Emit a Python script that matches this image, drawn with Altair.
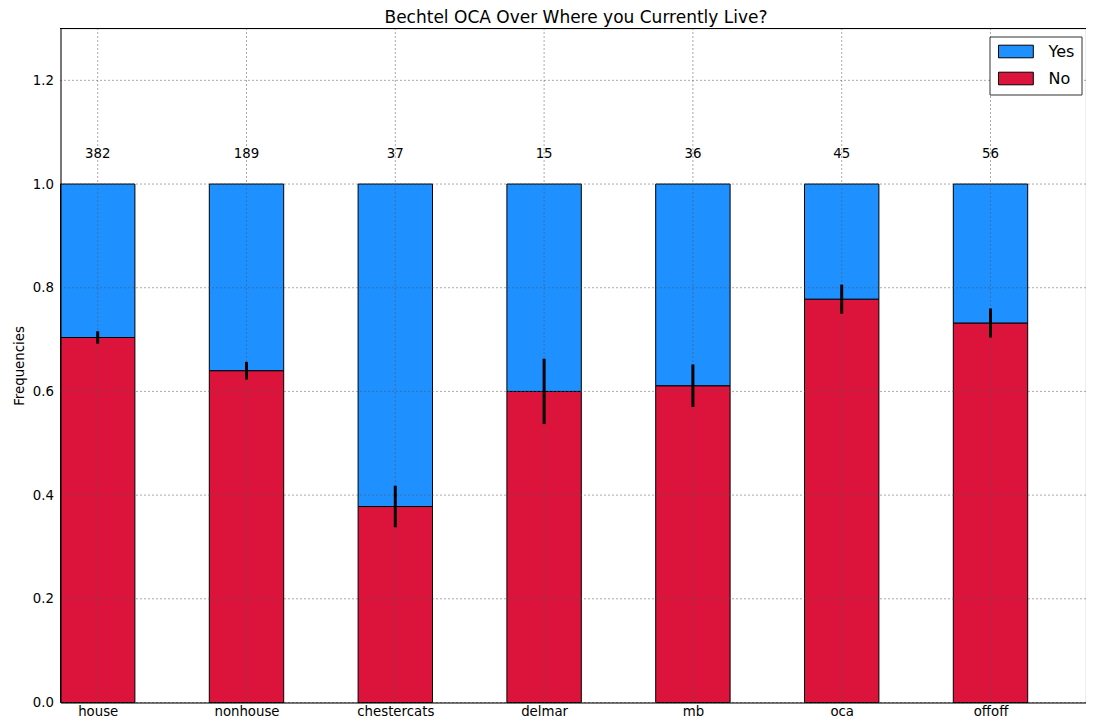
import altair as alt
import pandas as pd

categories = ["house", "nonhouse", "chestercats", "delmar", "mb", "oca", "offoff"]
counts = [382, 189, 37, 15, 36, 45, 56]
no_share = [0.704, 0.640, 0.378, 0.600, 0.611, 0.778, 0.732]
err = [0.012, 0.017, 0.040, 0.063, 0.041, 0.028, 0.028]
y_ticks = [0.0, 0.2, 0.4, 0.6, 0.8, 1.0, 1.2]
responses = ["Yes", "No"]
colors = ["#1E90FF", "#DC143C"]

HALF = 0.25
rows = []
for i, c in enumerate(categories):
    rows.append(dict(cat=c, pos=i, response="No", y0=0.0, y1=no_share[i]))
    rows.append(dict(cat=c, pos=i, response="Yes", y0=no_share[i], y1=1.0))
bars_df = pd.DataFrame(rows)
bars_df["left"] = bars_df["pos"] - HALF
bars_df["right"] = bars_df["pos"] + HALF

summ = pd.DataFrame(dict(cat=categories, pos=list(range(len(categories))),
                         count=counts, no=no_share, err=err))
summ["lo"] = summ["no"] - summ["err"]
summ["hi"] = summ["no"] + summ["err"]
summ["ly"] = 1.05
ygrid_df = pd.DataFrame(dict(tick=y_ticks))

W, H = 1025, 674
PX_PER_UNIT = 148.8
FONT = "DejaVu Sans"
GRID = dict(color="#555", strokeDash=[1, 3], strokeWidth=1)
label_js = "[" + ",".join("'%s'" % c for c in categories) + "][datum.value]"

xscale = alt.Scale(domain=[-0.25, -0.25 + W / PX_PER_UNIT], nice=False, zero=False)
yscale = alt.Scale(domain=[0, 1.3], nice=False, zero=False)

xaxis = alt.Axis(values=list(range(len(categories))), labelExpr=label_js, title=None,
                 ticks=False, labelPadding=2, labelFontSize=13.3, labelFont=FONT,
                 labelColor="black", grid=False, domainColor="black", domainWidth=1, zindex=1)
yaxis = alt.Axis(values=y_ticks, format=".1f", title="Frequencies",
                 titleFont=FONT, titleFontSize=13.3, titleFontWeight="normal", titleColor="black",
                 titlePadding=6, ticks=False, labelPadding=7, labelFontSize=13.3, labelFont=FONT,
                 labelColor="black", grid=False, domainColor="black", domainWidth=1, zindex=1)

bars = alt.Chart(bars_df).mark_bar(stroke="black", strokeWidth=1).encode(
    x=alt.X("left:Q", scale=xscale, axis=xaxis),
    x2="right:Q",
    y=alt.Y("y0:Q", scale=yscale, axis=yaxis),
    y2="y1:Q",
    color=alt.Color("response:N",
                    scale=alt.Scale(domain=responses, range=colors),
                    legend=alt.Legend(title=None, orient="none", legendX=929, legendY=8,
                                      symbolType="M-1,-1.05L4.8,-1.05L4.8,1.05L-1,1.05Z",
                                      symbolSize=144, symbolStrokeColor="black",
                                      symbolStrokeWidth=1, labelFontSize=16, labelFont=FONT,
                                      labelColor="black", labelOffset=36, rowPadding=9,
                                      padding=7, strokeColor="#333", fillColor="white",
                                      cornerRadius=0)),
)

ygrid = alt.Chart(ygrid_df).mark_rule(**GRID).encode(
    y=alt.Y("tick:Q", scale=yscale), x=alt.value(0), x2=alt.value(W))
xgrid = alt.Chart(summ).mark_rule(**GRID).encode(
    x=alt.X("pos:Q", scale=xscale), y=alt.value(0), y2=alt.value(H))

errs = alt.Chart(summ).mark_rule(color="black", strokeWidth=3).encode(
    x="pos:Q", y="lo:Q", y2="hi:Q")

texts = alt.Chart(summ).mark_text(baseline="alphabetic", align="center", fontSize=13.3,
                                  font=FONT, color="black").encode(
    x="pos:Q", y="ly:Q", text="count:Q")

top = alt.Chart(summ).mark_rule(color="black", strokeWidth=1).encode(
    x=alt.value(0), x2=alt.value(W), y=alt.value(0))

chart = alt.layer(bars, ygrid, xgrid, errs, texts, top).properties(
    width=W, height=H,
    title=alt.TitleParams("Bechtel OCA Over Where you Currently Live?", fontSize=17,
                          font=FONT, fontWeight="normal", color="black", baseline="bottom",
                          offset=7, dy=23, dx=3),
    autosize=alt.AutoSizeParams(type="none"),
    padding={"left": 52.5, "top": 20.5, "right": 0, "bottom": 15.5},
).configure_view(stroke=None).configure(background="white")

chart.save("out.html", embed_options={"renderer": "svg", "actions": False})
